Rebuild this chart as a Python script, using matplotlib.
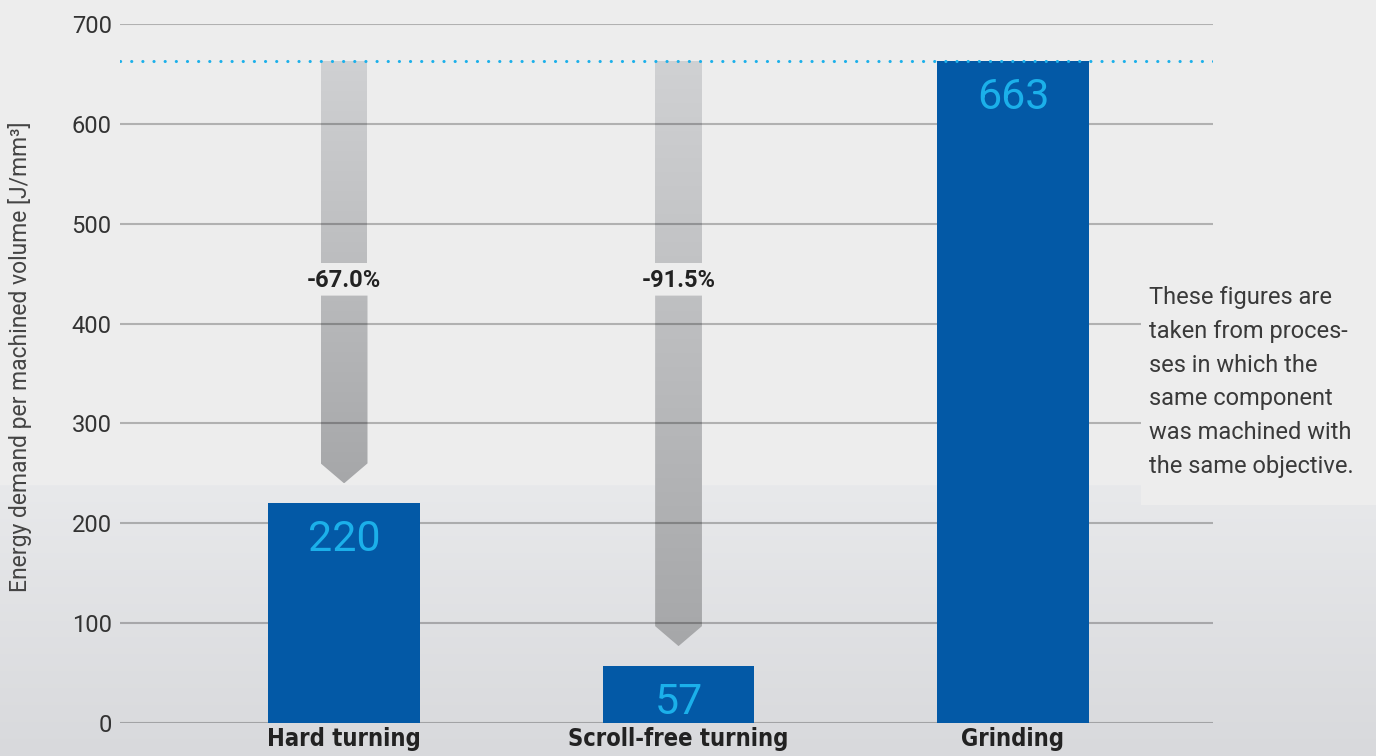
import numpy as np
import matplotlib
matplotlib.use("Agg")
import matplotlib.pyplot as plt
from matplotlib.patches import Polygon, Rectangle
from matplotlib.colors import LinearSegmentedColormap

# data
categories = ["Hard turning", "Scroll-free turning", "Grinding"]
energy = [220, 57, 663]
reduction_labels = ["-67.0%", "-91.5%"]
y_ticks = [0, 100, 200, 300, 400, 500, 600, 700]
note = ("These figures are\ntaken from proces-\nses in which the\n"
        "same component\nwas machined with\nthe same objective.")

BAR_BLUE = "#0359a6"
VALUE_BLUE = "#1bb0ea"
TEXT = "#333333"
SANS = ["Roboto", "DejaVu Sans"]

fig = plt.figure(figsize=(13.76, 7.56), dpi=100)

# background: flat light grey on top, soft gradient towards the bottom
bg = fig.add_axes([0, 0, 1, 1], zorder=-1)
r = np.full(756, 237.0)
g = np.full(756, 237.0)
b = np.full(756, 237.0)
r[485:] = np.linspace(232, 216, 756 - 485)
g[485:] = np.linspace(233, 217, 756 - 485)
b[485:] = np.linspace(235, 220, 756 - 485)
bg_img = np.dstack([np.repeat(c[:, None], 2, axis=1) for c in (r, g, b)])
bg.imshow(bg_img.astype(np.uint8), aspect="auto", extent=[0, 1, 0, 1])
bg.axis("off")

ax = fig.add_axes([120 / 1376, 1 - 723 / 756, 1093 / 1376, 699 / 756])
ax.set_facecolor("none")
for s in ax.spines.values():
    s.set_visible(False)

x = np.arange(len(categories))

# grid (translucent so it darkens over the arrows)
for t in y_ticks:
    ax.axhline(t, color="black", alpha=0.25, lw=1.5, zorder=1.5)

# arrows from the grinding level down to the other bars
top = energy[2]
hw = 0.07
grad = np.linspace(0, 1, 256)[:, None]
arrow_cmap = LinearSegmentedColormap.from_list("arrow", ["#a6a7a9", "#d0d1d3"])
label_y = 443
for i, lab in enumerate(reduction_labels):
    c = x[i]
    tip = energy[i] + 20
    shaft_end = tip + 20
    pieces = [
        [(c - hw, top), (c + hw, top), (c + hw, label_y + 18), (c - hw, label_y + 18)],
        [(c - hw, label_y - 15), (c + hw, label_y - 15), (c + hw, shaft_end),
         (c, tip), (c - hw, shaft_end)],
    ]
    for pts in pieces:
        poly = Polygon(pts, closed=True, facecolor="none", edgecolor="none")
        ax.add_patch(poly)
        im = ax.imshow(grad, cmap=arrow_cmap, aspect="auto", origin="lower",
                       extent=[c - hw, c + hw, tip, top], zorder=1)
        im.set_clip_path(poly)
    ax.text(c, label_y, lab, ha="center", va="center", fontsize=17,
            fontweight="bold", color="#222222", family=SANS)
ax.set_xlim(-0.67, 2.598)
ax.set_ylim(0, 700)

# bars
ax.bar(x, energy, width=0.454, color=BAR_BLUE, zorder=2)
for xi, v in zip(x, energy):
    ax.text(xi, v - 16, str(v), ha="center", va="top", fontsize=31,
            color=VALUE_BLUE, family=SANS, zorder=3)

# reference level
ax.axhline(top, color=VALUE_BLUE, lw=2.2, linestyle=(0, (0.05, 3.6)),
           dash_capstyle="round", zorder=3)

ax.set_yticks(y_ticks)
ax.set_yticklabels([str(t) for t in y_ticks], fontsize=17, color=TEXT, family=SANS)
ax.set_xticks(x)
ax.set_xticklabels(categories, fontsize=17, fontweight="bold", color="#222222",
                   family="DejaVu Sans", fontstretch="condensed")
ax.tick_params(axis="both", length=0)
ax.tick_params(axis="y", pad=6)
ax.tick_params(axis="x", pad=3)

ax.set_ylabel("Energy demand per machined volume [J/mm³]", fontsize=16.5,
              color="#444444", family=SANS, va="center")
ax.yaxis.set_label_coords(-0.0915, 0.524)

# note box on the right
fig.add_artist(Rectangle((1141 / 1376, 1 - 505 / 756), 235 / 1376, 245 / 756,
                         transform=fig.transFigure, facecolor="#ededed",
                         edgecolor="none", zorder=1))
fig.text(1149 / 1376, 1 - 286 / 756, note, ha="left", va="top", fontsize=17,
         color="#3a3a3a", linespacing=1.6, family=SANS, zorder=2)

fig.savefig("out.png", dpi=100)
